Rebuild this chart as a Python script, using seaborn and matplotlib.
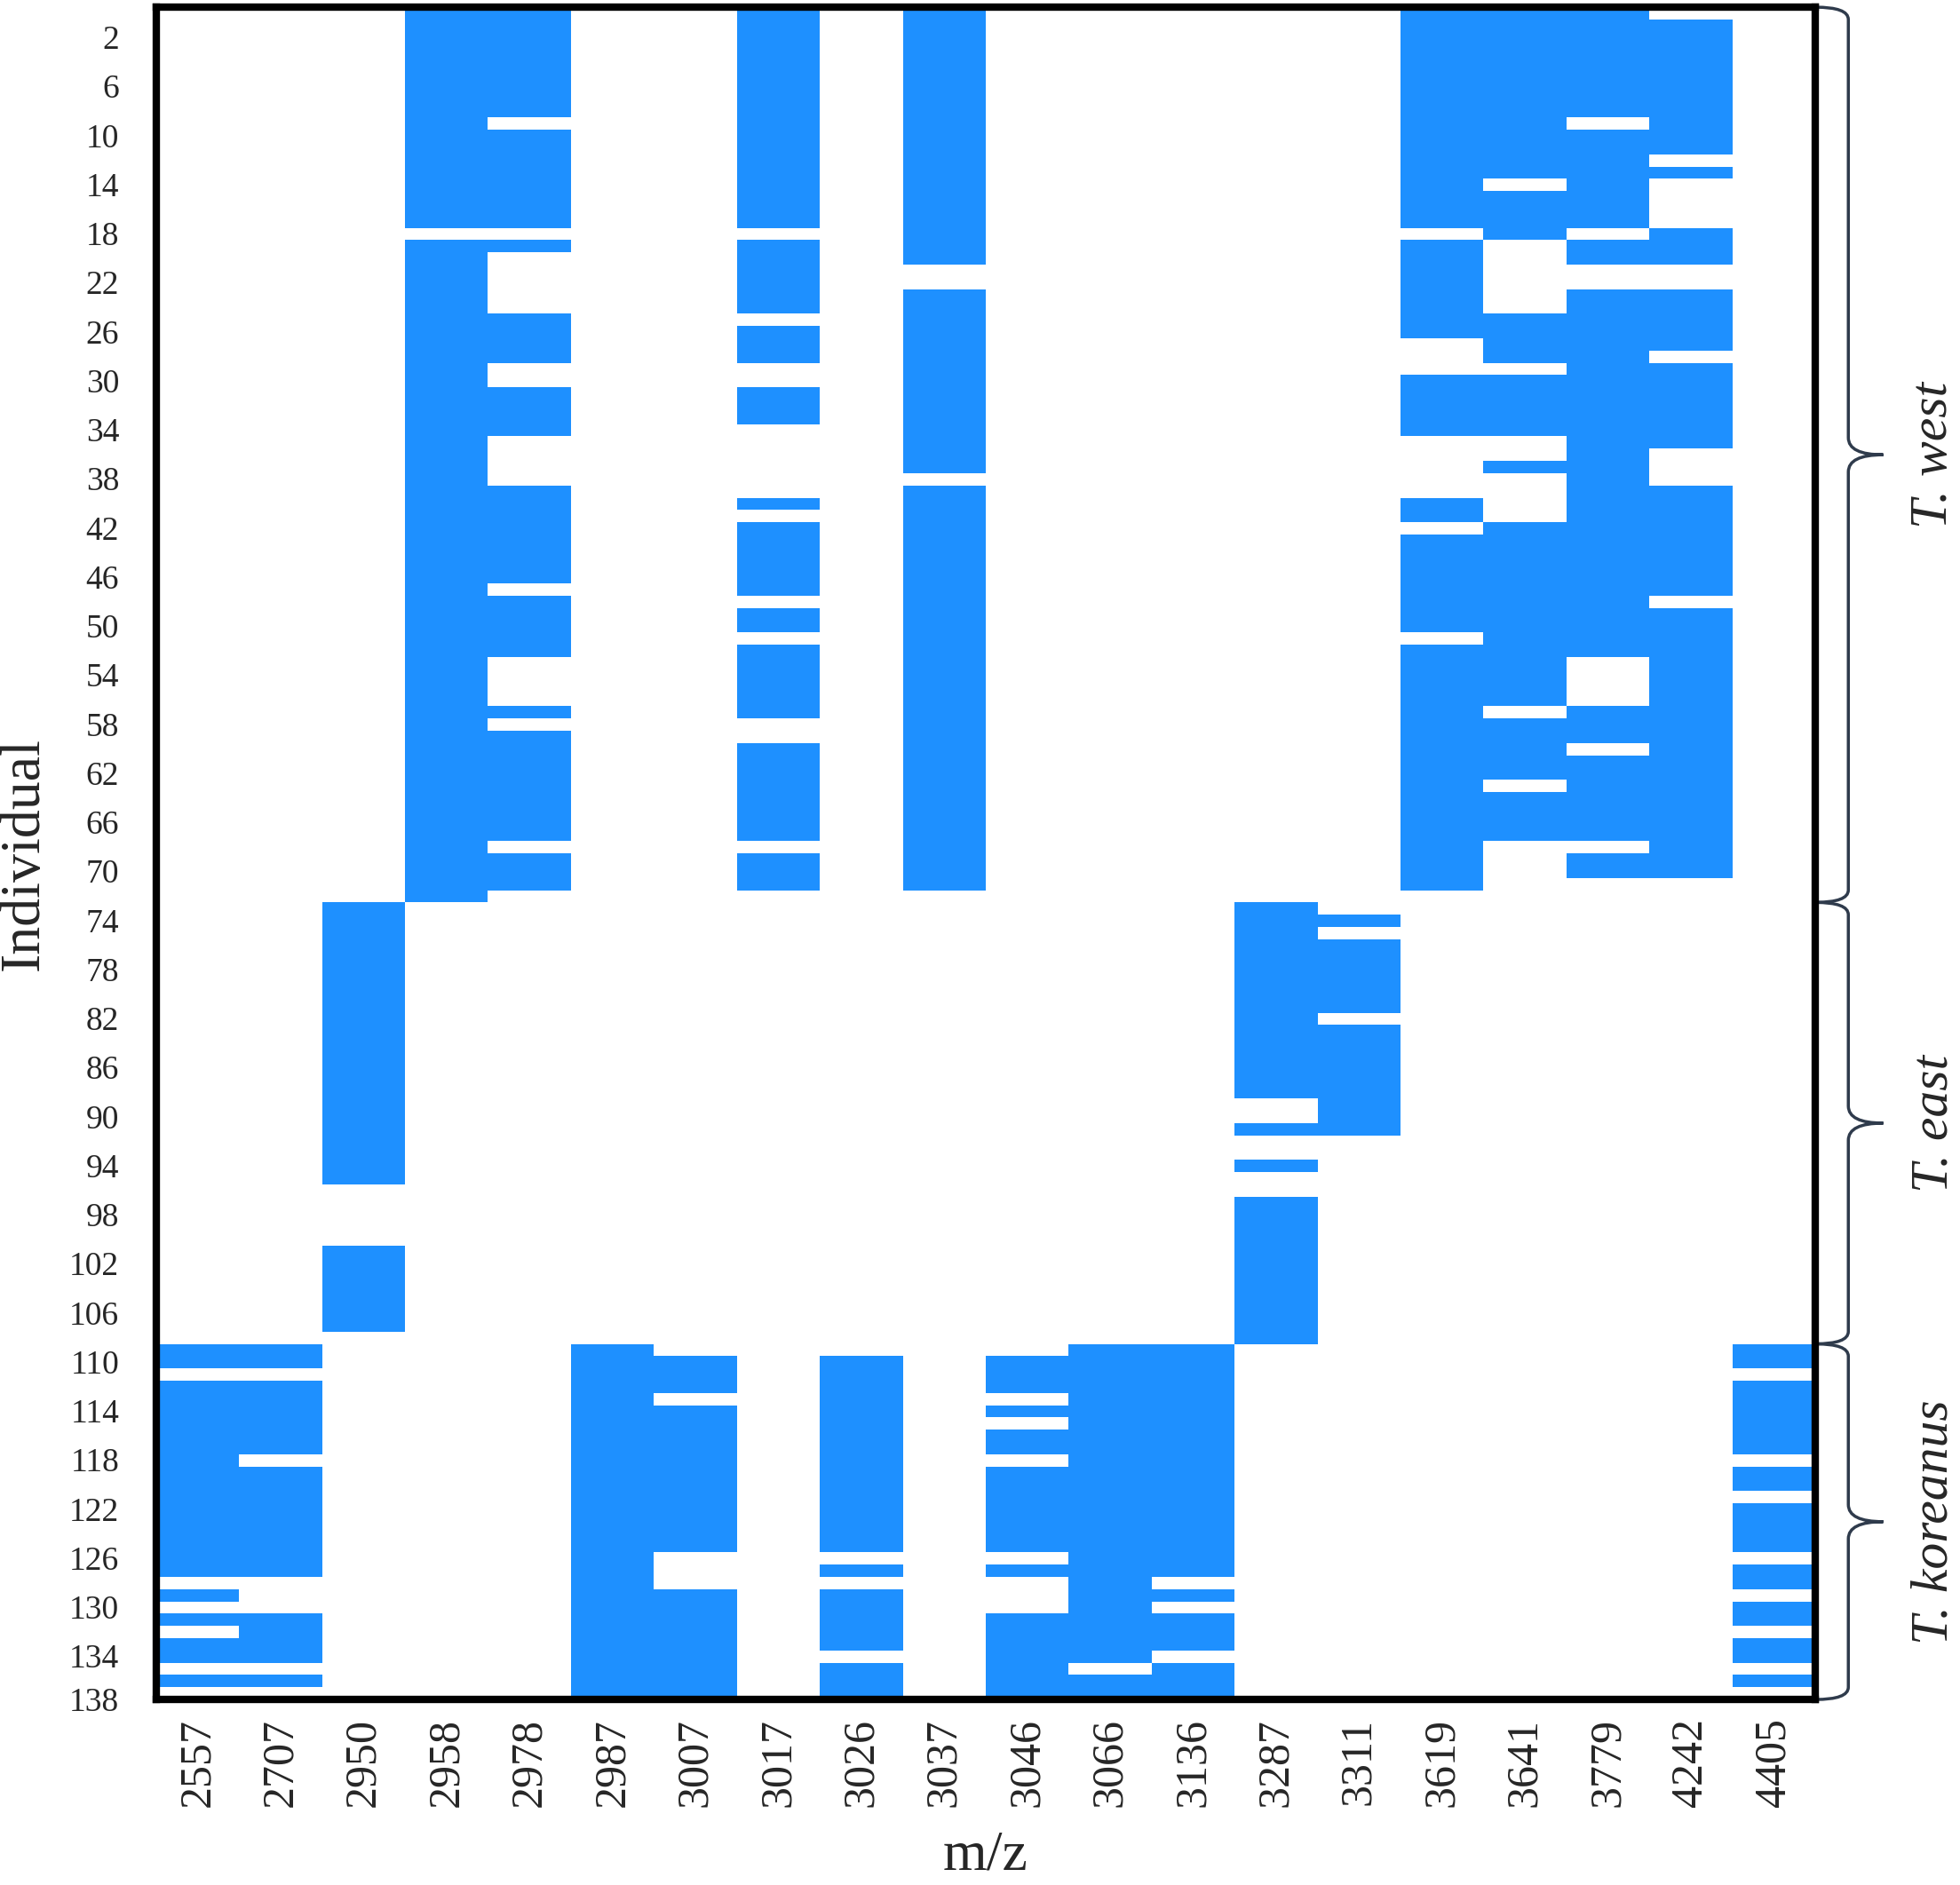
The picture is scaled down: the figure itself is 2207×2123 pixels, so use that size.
import numpy as np
import pandas as pd
import matplotlib
matplotlib.use("Agg")
import matplotlib.pyplot as plt
from matplotlib.colors import ListedColormap
from matplotlib.path import Path
from matplotlib.patches import PathPatch
import seaborn as sns

n_individuals = 138
mz_values = ["2557", "2707", "2950", "2958", "2978", "2987", "3007", "3017", "3026", "3037",
             "3046", "3066", "3136", "3287", "3311", "3619", "3641", "3779", "4242", "4405"]

# runs of individuals (1-based, inclusive) where the peak is present
runs_2557 = [(110, 111), (113, 128), (130, 130), (132, 132), (134, 135), (137, 137)]
runs_2707 = [(110, 111), (113, 118), (120, 128), (132, 135), (137, 137)]
runs_2950 = [(74, 96), (102, 108)]
runs_2958 = [(1, 18), (20, 73)]
runs_2978 = [(1, 9), (11, 18), (20, 20), (26, 29), (32, 35), (40, 47), (49, 53),
             (58, 58), (60, 68), (70, 72)]
runs_2987 = [(110, 138)]
runs_3007 = [(111, 113), (115, 126), (130, 138)]
runs_3017 = [(1, 18), (20, 25), (27, 29), (32, 34), (41, 41), (43, 48), (50, 51),
             (53, 58), (61, 68), (70, 72)]
runs_3026 = [(111, 126), (128, 128), (130, 134), (136, 138)]
runs_3037 = [(1, 21), (24, 38), (40, 72)]
runs_3046 = [(111, 113), (115, 115), (117, 118), (120, 126), (128, 128), (132, 138)]
runs_3066 = [(110, 135), (137, 138)]
runs_3136 = [(110, 128), (130, 130), (132, 134), (136, 138)]
runs_3287 = [(74, 89), (92, 92), (95, 95), (98, 109)]
runs_3311 = [(75, 75), (77, 82), (84, 92)]
runs_3619 = [(1, 18), (20, 27), (31, 35), (41, 42), (44, 51), (53, 72)]
runs_3641 = [(1, 14), (16, 19), (26, 29), (31, 35), (38, 38), (43, 57), (59, 63), (65, 68)]
runs_3779 = [(1, 9), (11, 18), (20, 21), (24, 53), (58, 60), (62, 68), (70, 71)]
runs_4242 = [(2, 12), (14, 14), (19, 21), (24, 28), (30, 36), (40, 48), (50, 71)]
runs_4405 = [(110, 111), (113, 118), (120, 121), (123, 126), (128, 129), (131, 132),
             (134, 135), (137, 137)]

all_runs = [runs_2557, runs_2707, runs_2950, runs_2958, runs_2978, runs_2987, runs_3007,
            runs_3017, runs_3026, runs_3037, runs_3046, runs_3066, runs_3136, runs_3287,
            runs_3311, runs_3619, runs_3641, runs_3779, runs_4242, runs_4405]

group_names = ["T. west", "T. east", "T. koreanus"]
group_edges = [0, 73, 109, 138]

# матрица присутствия пиков
matrix = np.zeros((n_individuals, len(mz_values)), dtype=int)
for j, runs in enumerate(all_runs):
    for a, b in runs:
        matrix[a - 1:b, j] = 1
df = pd.DataFrame(matrix, index=range(1, n_individuals + 1), columns=mz_values)

sns.set_style("white")
plt.rcParams['font.family'] = ['Liberation Serif', 'DejaVu Serif']

fig = plt.figure(figsize=(22.07, 21.23), dpi=100)
ax = fig.add_axes([0.0797, 0.0984, 0.8464, 0.8978])

sns.heatmap(df, ax=ax, cmap=ListedColormap(['white', '#1E90FF']), cbar=False,
            vmin=0, vmax=1, xticklabels=True, yticklabels=False)

ytick_vals = np.arange(2, n_individuals + 1, 4)
ax.set_yticks(np.minimum(ytick_vals + 0.45, n_individuals))
ax.set_yticklabels(ytick_vals, rotation=0, fontsize=27)
ax.set_xticklabels(mz_values, rotation=90, fontsize=36)
ax.tick_params(axis='both', length=0)
ax.tick_params(axis='y', pad=30)
ax.tick_params(axis='x', pad=15)

for sp in ax.spines.values():
    sp.set_visible(True)
    sp.set_color('black')
    sp.set_linewidth(6)

ax.set_xlabel('m/z', fontsize=46)
ax.xaxis.set_label_coords(0.5, -0.0925)
ax.xaxis.label.set_verticalalignment('center')
ax.set_ylabel('Individual', fontsize=46)
ax.yaxis.set_label_coords(-0.0792, 0.5)
ax.yaxis.label.set_verticalalignment('center')


def draw_brace(ax, top, bottom, color='#2f3b4c'):
    """Фигурная скобка справа от графика (x в долях осей, y в строках)."""
    mid = (top + bottom) / 2
    x0, x1, x2 = 1.0, 1.02, 1.041
    r, rm = 1.0, 1.4
    verts = [(x0, top), (x1, top), (x1, top + r),
             (x1, mid - rm),
             (x1, mid), (x2, mid),
             (x1, mid), (x1, mid + rm),
             (x1, bottom - r),
             (x1, bottom), (x0, bottom)]
    codes = [Path.MOVETO, Path.CURVE3, Path.CURVE3,
             Path.LINETO,
             Path.CURVE3, Path.CURVE3,
             Path.CURVE3, Path.CURVE3,
             Path.LINETO,
             Path.CURVE3, Path.CURVE3]
    patch = PathPatch(Path(verts, codes), facecolor='none', edgecolor=color, lw=2.5,
                      transform=ax.get_yaxis_transform(), clip_on=False)
    ax.add_patch(patch)


for name, top, bottom in zip(group_names, group_edges[:-1], group_edges[1:]):
    draw_brace(ax, top, bottom)
    ax.text(1.072, (top + bottom) / 2, name, transform=ax.get_yaxis_transform(),
            rotation=90, ha='center', va='center', fontsize=43, style='italic')

fig.savefig('out.png', dpi=100)
plt.close(fig)
